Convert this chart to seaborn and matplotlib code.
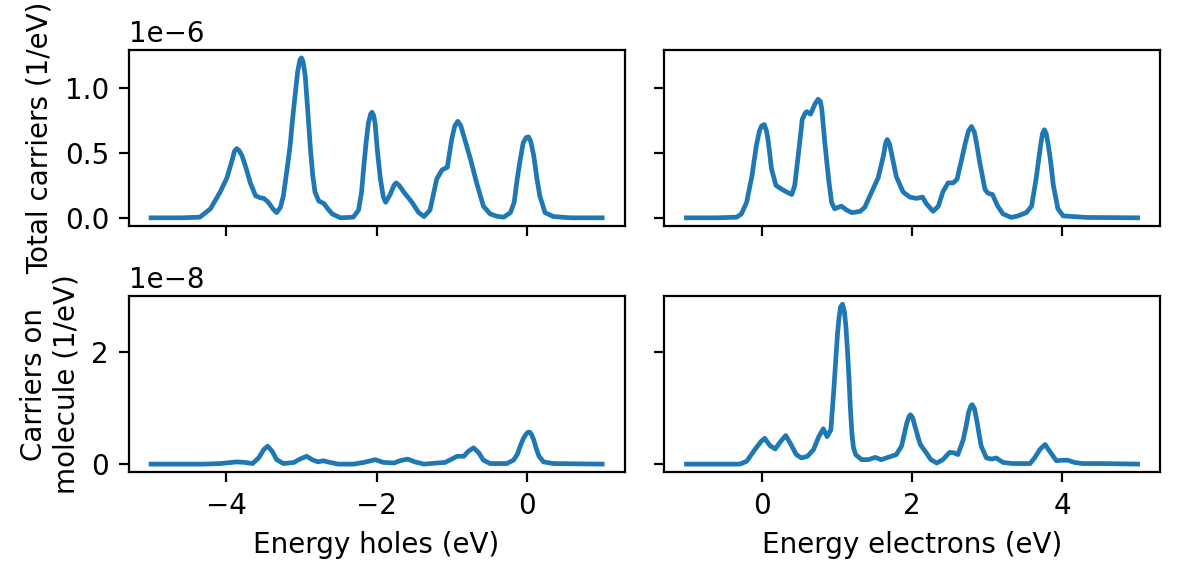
import matplotlib
matplotlib.use("Agg")
import matplotlib.pyplot as plt
import seaborn as sns
import numpy as np

# Top-left: total carriers vs hole energy (units 1e-6 / eV)
holes_total_x = [-5.0, -4.6, -4.35, -4.21, -4.08, -3.99, -3.92, -3.89, -3.86, -3.83, -3.79, -3.74,
                 -3.68, -3.61, -3.55, -3.50, -3.44, -3.38, -3.33, -3.28, -3.24, -3.19, -3.15, -3.12,
                 -3.08, -3.05, -3.02, -3.00, -2.98, -2.95, -2.92, -2.88, -2.85, -2.82, -2.77, -2.70,
                 -2.65, -2.59, -2.48, -2.31, -2.24, -2.20, -2.17, -2.14, -2.11, -2.08, -2.06, -2.04,
                 -2.02, -1.99, -1.95, -1.91, -1.88, -1.82, -1.77, -1.74, -1.70, -1.64, -1.53, -1.44,
                 -1.37, -1.29, -1.20, -1.13, -1.06, -1.00, -0.96, -0.92, -0.88, -0.84, -0.75, -0.67,
                 -0.58, -0.49, -0.40, -0.31, -0.22, -0.17, -0.13, -0.09, -0.05, -0.01, 0.02, 0.05,
                 0.09, 0.13, 0.17, 0.24, 0.35, 0.58, 1.0]
holes_total_y = [0.0, 0.0, 0.005, 0.07, 0.2, 0.31, 0.45, 0.515, 0.535, 0.52, 0.48, 0.39,
                 0.27, 0.17, 0.155, 0.15, 0.12, 0.07, 0.04, 0.08, 0.17, 0.38, 0.56, 0.75,
                 0.97, 1.13, 1.22, 1.235, 1.21, 1.10, 0.86, 0.53, 0.33, 0.20, 0.13, 0.11,
                 0.07, 0.03, 0.0, 0.005, 0.06, 0.20, 0.40, 0.58, 0.73, 0.80, 0.815, 0.79,
                 0.73, 0.52, 0.30, 0.16, 0.12, 0.18, 0.25, 0.27, 0.25, 0.20, 0.12, 0.04,
                 0.01, 0.06, 0.30, 0.37, 0.39, 0.61, 0.71, 0.745, 0.71, 0.63, 0.45, 0.27,
                 0.09, 0.03, 0.012, 0.005, 0.04, 0.12, 0.30, 0.45, 0.58, 0.62, 0.625, 0.59,
                 0.48, 0.31, 0.17, 0.04, 0.01, 0.0, 0.0]

# Top-right: total carriers vs electron energy (units 1e-6 / eV)
elec_total_x = [-1.0, -0.6, -0.33, -0.27, -0.20, -0.13, -0.07, -0.03, 0.0, 0.035, 0.065, 0.09, 0.13,
                0.19, 0.27, 0.33, 0.40, 0.44, 0.49, 0.54, 0.58, 0.60, 0.65, 0.71, 0.75, 0.78, 0.80,
                0.84, 0.89, 0.93, 0.97, 1.06, 1.13, 1.20, 1.31, 1.37, 1.44, 1.55, 1.62, 1.65, 1.67,
                1.70, 1.73, 1.79, 1.88, 1.97, 2.06, 2.14, 2.19, 2.28, 2.35, 2.41, 2.48, 2.55, 2.60,
                2.66, 2.71, 2.75, 2.79, 2.83, 2.86, 2.90, 2.97, 3.01, 3.07, 3.14, 3.21, 3.32, 3.41,
                3.52, 3.59, 3.65, 3.68, 3.71, 3.735, 3.76, 3.785, 3.81, 3.84, 3.88, 3.94, 4.01, 4.32,
                5.0]
elec_total_y = [0.0, 0.0, 0.005, 0.03, 0.12, 0.32, 0.56, 0.67, 0.71, 0.72, 0.67, 0.58, 0.38,
                0.25, 0.22, 0.20, 0.18, 0.25, 0.50, 0.76, 0.81, 0.82, 0.80, 0.88, 0.915, 0.9, 0.84,
                0.58, 0.30, 0.12, 0.07, 0.09, 0.06, 0.04, 0.05, 0.08, 0.17, 0.31, 0.48, 0.58, 0.605,
                0.57, 0.49, 0.32, 0.20, 0.16, 0.15, 0.16, 0.11, 0.05, 0.09, 0.20, 0.27, 0.27, 0.30,
                0.45, 0.58, 0.67, 0.705, 0.66, 0.57, 0.43, 0.22, 0.19, 0.18, 0.09, 0.03, 0.003, 0.015,
                0.04, 0.09, 0.30, 0.43, 0.56, 0.65, 0.68, 0.65, 0.57, 0.45, 0.25, 0.07, 0.015, 0.003,
                0.0]

# Bottom-left: carriers on molecule vs hole energy (units 1e-8 / eV)
holes_mol_x = [-5.0, -4.3, -4.08, -3.86, -3.75, -3.65, -3.57, -3.50, -3.45, -3.39, -3.33, -3.24,
               -3.10, -3.02, -2.93, -2.86, -2.78, -2.71, -2.62, -2.51, -2.31, -2.17, -2.02, -1.91,
               -1.77, -1.69, -1.59, -1.49, -1.37, -1.20, -1.09, -1.00, -0.93, -0.84, -0.78, -0.71,
               -0.64, -0.58, -0.49, -0.27, -0.18, -0.13, -0.09, -0.05, -0.02, 0.01, 0.035, 0.06,
               0.09, 0.12, 0.16, 0.22, 0.35, 1.0]
holes_mol_y = [0.0, 0.0, 0.01, 0.04, 0.03, 0.01, 0.11, 0.26, 0.32, 0.23, 0.08, 0.01,
               0.03, 0.09, 0.14, 0.08, 0.04, 0.06, 0.03, 0.0, 0.0, 0.03, 0.08, 0.03,
               0.02, 0.06, 0.09, 0.04, 0.0, 0.02, 0.03, 0.09, 0.14, 0.14, 0.23, 0.29,
               0.20, 0.07, 0.01, 0.01, 0.07, 0.17, 0.32, 0.45, 0.52, 0.565, 0.57, 0.53,
               0.43, 0.29, 0.14, 0.04, 0.01, 0.0]

# Bottom-right: carriers on molecule vs electron energy (units 1e-8 / eV)
elec_mol_x = [-1.0, -0.29, -0.20, -0.09, -0.01, 0.04, 0.11, 0.18, 0.25, 0.32, 0.39, 0.46, 0.53,
              0.61, 0.69, 0.76, 0.82, 0.87, 0.92, 0.96, 0.99, 1.01, 1.03, 1.05, 1.075, 1.10, 1.12,
              1.14, 1.16, 1.18, 1.20, 1.22, 1.25, 1.33, 1.42, 1.51, 1.59, 1.68, 1.79, 1.86, 1.90,
              1.93, 1.96, 1.98, 2.01, 2.04, 2.08, 2.11, 2.19, 2.25, 2.33, 2.41, 2.50, 2.56, 2.61,
              2.68, 2.72, 2.75, 2.78, 2.80, 2.83, 2.86, 2.89, 2.92, 2.99, 3.06, 3.12, 3.21, 3.34,
              3.57, 3.63, 3.70, 3.77, 3.83, 3.92, 4.01, 4.07, 4.16, 4.27, 4.54, 5.0]
elec_mol_y = [0.0, 0.0, 0.05, 0.26, 0.40, 0.46, 0.33, 0.27, 0.40, 0.51, 0.35, 0.17, 0.11,
              0.14, 0.26, 0.49, 0.63, 0.49, 0.61, 1.33, 1.95, 2.34, 2.62, 2.80, 2.85, 2.72, 2.46,
              2.05, 1.57, 1.00, 0.55, 0.30, 0.17, 0.08, 0.08, 0.12, 0.08, 0.12, 0.17, 0.32, 0.55,
              0.73, 0.85, 0.88, 0.82, 0.67, 0.48, 0.35, 0.20, 0.08, 0.02, 0.08, 0.21, 0.20, 0.17,
              0.43, 0.68, 0.91, 1.03, 1.06, 0.99, 0.79, 0.55, 0.32, 0.11, 0.09, 0.11, 0.03, 0.01,
              0.01, 0.11, 0.26, 0.35, 0.23, 0.06, 0.07, 0.07, 0.03, 0.01, 0.01, 0.0]

color = "#1f77b4"
fig, axes = plt.subplots(2, 2, figsize=(5.895, 2.9), dpi=200, sharex="col", sharey="row")

line_kw = dict(color=color, linewidth=1.7, solid_joinstyle="round")
sns.lineplot(x=holes_total_x, y=np.array(holes_total_y) * 1e-6, ax=axes[0, 0], **line_kw)
sns.lineplot(x=elec_total_x, y=np.array(elec_total_y) * 1e-6, ax=axes[0, 1], **line_kw)
sns.lineplot(x=holes_mol_x, y=np.array(holes_mol_y) * 1e-8, ax=axes[1, 0], **line_kw)
sns.lineplot(x=elec_mol_x, y=np.array(elec_mol_y) * 1e-8, ax=axes[1, 1], **line_kw)

axes[0, 0].set_ylabel("Total carriers (1/eV)")
axes[1, 0].set_ylabel("Carriers on\nmolecule (1/eV)")
axes[1, 0].set_xlabel("Energy holes (eV)")
axes[1, 1].set_xlabel("Energy electrons (eV)")

axes[0, 0].set_yticks([0.0, 0.5e-6, 1.0e-6])
axes[1, 0].set_yticks([0.0, 2e-8])
axes[1, 0].set_xticks([-4, -2, 0])
axes[1, 1].set_xticks([0, 2, 4])

fig.subplots_adjust(left=0.109, right=0.984, bottom=0.186, top=0.914, wspace=0.079, hspace=0.40)
fig.savefig("out.png", dpi=200)
